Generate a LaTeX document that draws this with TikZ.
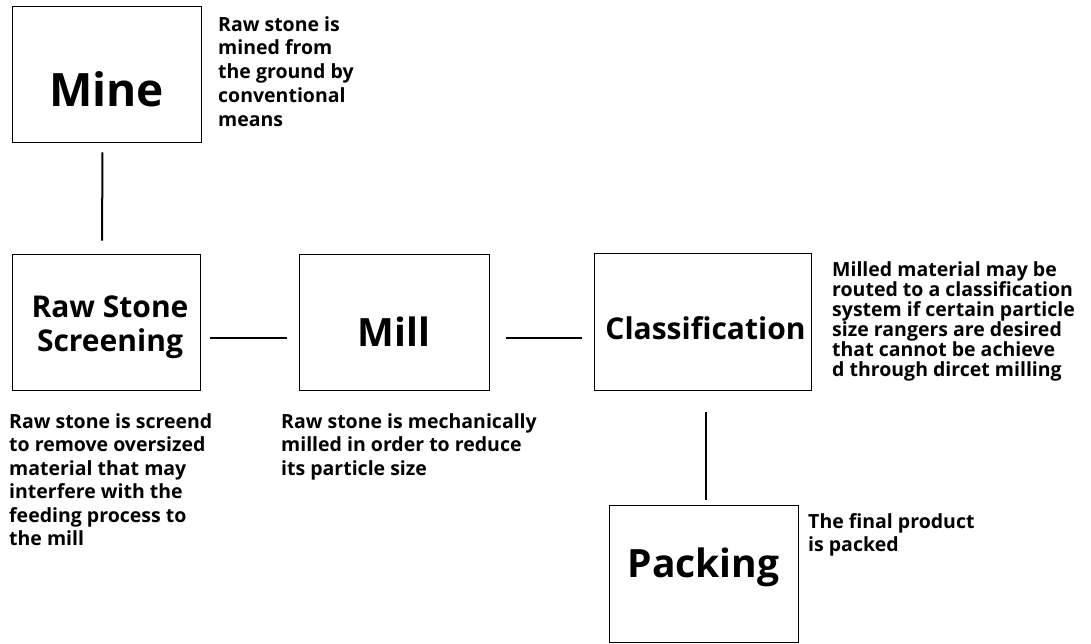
\documentclass[tikz,border=0pt]{standalone}
\usepackage{fontspec}
\setmainfont{Open Sans}
\usepackage{tikz}

\tikzset{
    procbox/.style={draw, line width=0.8pt, inner sep=0pt},
    boxlabel/.style={font=\bfseries\fontsize{30}{34}\selectfont, align=center, inner sep=0pt},
    note/.style={font=\bfseries\fontsize{19.5}{23.5}\selectfont, align=left, anchor=north west, inner sep=0pt},
    link/.style={line width=2pt}
}

\begin{document}
\begin{tikzpicture}[x=1pt,y=-1pt]
    \useasboundingbox (0,0) rectangle (1091,643);

    % boxes
    \node[procbox, minimum width=189pt, minimum height=136pt] (mine) at (106.5,74) {};
    \node[procbox, minimum width=188pt, minimum height=136pt] (screen) at (106,322) {};
    \node[procbox, minimum width=190pt, minimum height=136pt] (mill) at (394,322) {};
    \node[procbox, minimum width=217pt, minimum height=137pt] (class) at (702.5,321.5) {};
    \node[procbox, minimum width=189pt, minimum height=137pt] (pack) at (703.5,573.5) {};

    % box titles
    \node[boxlabel, font=\bfseries\fontsize{46}{46}\selectfont] (minet) at ([yshift=-15pt]mine.center) {Mine};
    \node[boxlabel] (screent) at ([xshift=4pt,yshift=-5pt]screen.center) {Raw Stone\\Screening};
    \node[boxlabel, font=\bfseries\fontsize{39}{39}\selectfont] (millt) at ([yshift=-10pt]mill.center) {Mill};
    \node[boxlabel, font=\bfseries\fontsize{30}{30}\selectfont] (classt) at ([xshift=3pt,yshift=-7pt]class.center) {Classification};
    \node[boxlabel, font=\bfseries\fontsize{39}{39}\selectfont] (packt) at ([yshift=6pt]pack.center) {Packing};

    % notes
    \node[note, font=\bfseries\fontsize{19.5}{23.75}\selectfont] (minen) at (218,16) {Raw stone is\\mined from\\the ground by\\conventional\\means};
    \node[note] (screenn) at (9,413) {Raw stone is screend\\to remove oversized\\material that may\\interfere with the\\feeding process to\\the mill};
    \node[note] (milln) at (281,413) {Raw stone is mechanically\\milled in order to reduce\\its particle size};
    \node[note, font=\bfseries\fontsize{19.5}{20}\selectfont] (classn) at (832,261) {Milled material may be\\routed to a classification\\system if certain particle\\size rangers are desired\\that cannot be achieve\\d through dircet milling};
    \node[note, font=\bfseries\fontsize{19.5}{23}\selectfont] (packn) at (808,513) {The final product\\is packed};

    % connectors
    \draw[link, shorten <=10pt, shorten >=13pt] ([xshift=-4pt]mine.south) -- ([xshift=-4pt]screen.north);
    \draw[link, shorten <=10pt, shorten >=12pt] ([yshift=-16pt]screen.east) -- ([yshift=-16pt]mill.west);
    \draw[link, shorten <=17pt, shorten >=12pt] ([yshift=-16pt]mill.east) -- ([yshift=-16.5pt]class.west);
    \draw[link, shorten <=22pt, shorten >=5pt] ([xshift=3.5pt]class.south) -- ([xshift=2.5pt]pack.north);
\end{tikzpicture}
\end{document}
